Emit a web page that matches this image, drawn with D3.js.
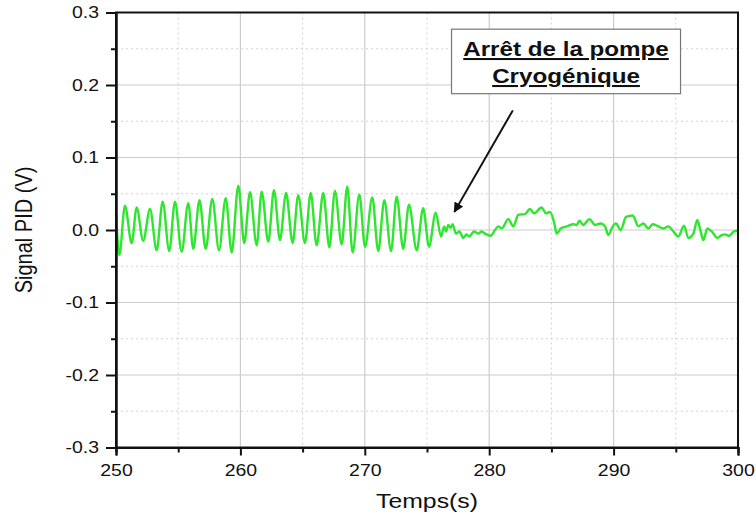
<!DOCTYPE html>
<html>
<head>
<meta charset="utf-8">
<script src="https://cdnjs.cloudflare.com/ajax/libs/d3/7.8.5/d3.min.js"></script>
<style>
body { margin: 0; background: #fff; }
text { font-family: "Liberation Sans", Arial, sans-serif; fill: #111; }
</style>
</head>
<body>
<svg class="chart-pid" width="756" height="517"></svg>
<script>
// temps (s) / signal (V)
var temps = [
    250.00, 250.27, 250.72, 251.26, 251.66, 252.19, 252.73, 253.27, 253.75, 254.28,
    254.74, 255.28, 255.81, 256.21, 256.71, 257.21, 257.74, 258.28, 258.82, 259.30,
    259.83, 260.31, 260.77, 261.31, 261.71, 262.24, 262.70, 263.18, 263.67, 264.20,
    264.65, 265.19, 265.65, 266.13, 266.66, 267.15, 267.60, 268.14, 268.59, 269.02,
    269.56, 270.02, 270.60, 271.08, 271.57, 272.11, 272.56, 273.09, 273.55, 274.17,
    274.69, 275.16, 275.70, 276.13, 276.37, 276.53, 276.71, 276.89, 277.06, 277.33,
    277.60, 277.92, 278.17, 278.40, 278.78, 279.12, 279.39, 279.66, 280.12, 280.47,
    280.73, 281.00, 281.54, 281.94, 282.34, 282.88, 283.28, 283.60, 284.22, 284.57,
    284.89, 285.21, 285.43, 285.75, 286.23, 286.76, 287.04, 287.25, 287.57, 288.05,
    288.51, 288.96, 289.31, 289.58, 289.93, 290.19, 290.57, 291.00, 291.54, 291.99,
    292.39, 292.79, 293.14, 293.59, 293.99, 294.40, 294.80, 295.20, 295.66, 296.01,
    296.41, 296.73, 297.00, 297.21, 297.54, 297.89, 298.34, 298.69, 298.96, 299.30,
    299.68, 300.00
];

var signal = [
    0.023, -0.0345, 0.0335, -0.018, 0.031, -0.015, 0.029, -0.028, 0.039, -0.029,
    0.039, -0.030, 0.037, -0.026, 0.041, -0.026, 0.043, -0.028, 0.044, -0.031,
    0.061, -0.018, 0.052, -0.021, 0.053, -0.016, 0.055, -0.014, 0.051, -0.018,
    0.048, -0.018, 0.051, -0.021, 0.051, -0.024, 0.054, -0.020, 0.060, -0.031,
    0.049, -0.023, 0.045, -0.029, 0.041, -0.029, 0.046, -0.026, 0.035, -0.028,
    0.030, -0.023, 0.024, -0.009, 0.005, -0.002, 0.007, 0.003, 0.008, -0.005,
    -0.002, -0.011, -0.006, -0.009, -0.002, -0.005, -0.002, -0.005, -0.008, 0.000,
    0.005, 0.002, 0.015, 0.005, 0.021, 0.022, 0.029, 0.023, 0.031, 0.023,
    0.025, 0.011, -0.005, 0.002, 0.005, 0.008, 0.007, 0.013, 0.007, 0.015,
    0.007, 0.009, 0.005, -0.007, 0.005, 0.009, 0.000, 0.018, 0.020, 0.005,
    0.009, 0.002, 0.008, 0.005, 0.002, 0.005, -0.002, -0.009, 0.006, -0.011,
    -0.005, 0.014, -0.002, -0.014, 0.002, -0.002, -0.011, -0.007, -0.006, -0.008,
    -0.002, -0.001
];

var xTicks = [250, 260, 270, 280, 290, 300];
var xMinor = [255, 265, 275, 285, 295];
var yTicks = [-0.3, -0.2, -0.1, 0.0, 0.1, 0.2, 0.3];
var yMinor = [-0.25, -0.15, -0.05, 0.05, 0.15, 0.25];

var noteLines = ["Arrêt de la pompe", "Cryogénique"];
var noteBox = [276.97, 0.277, 295.38, 0.188];   // t0, v0, t1, v1
var arrowFrom = [281.9, 0.165];
var arrowTo = [277.2, 0.025];

var plot = { left: 116, right: 738, top: 12.5, bottom: 447.5 };
var stretch = 1.18;   // le texte de l'original est étiré en largeur

var svg = d3.select("svg.chart-pid");

var x = d3.scaleLinear().domain([250, 300]).range([plot.left, plot.right]);
var y = d3.scaleLinear().domain([-0.3, 0.3]).range([plot.bottom, plot.top]);

function drawGrid() {
    var g = svg.append("g").attr("class", "grid");

    g.selectAll("line.vmin").data(xMinor).enter().append("line")
      .attr("x1", function (d) { return x(d); }).attr("x2", function (d) { return x(d); })
      .attr("y1", plot.top).attr("y2", plot.bottom)
      .attr("stroke", "#d2d2d2").attr("stroke-dasharray", "2,3");

    g.selectAll("line.hmin").data(yMinor).enter().append("line")
      .attr("y1", function (d) { return y(d); }).attr("y2", function (d) { return y(d); })
      .attr("x1", plot.left).attr("x2", plot.right)
      .attr("stroke", "#d2d2d2").attr("stroke-dasharray", "2,3");

    g.selectAll("line.vmaj").data(xTicks).enter().append("line")
      .attr("x1", function (d) { return x(d); }).attr("x2", function (d) { return x(d); })
      .attr("y1", plot.top).attr("y2", plot.bottom)
      .attr("stroke", "#cccccc").attr("stroke-width", 1.2);

    g.selectAll("line.hmaj").data(yTicks).enter().append("line")
      .attr("y1", function (d) { return y(d); }).attr("y2", function (d) { return y(d); })
      .attr("x1", plot.left).attr("x2", plot.right)
      .attr("stroke", "#cccccc").attr("stroke-width", 1.2);
}

function drawSignal() {
    var pts = temps.map(function (t, i) { return [t, signal[i]]; });
    var line = d3.line()
      .x(function (d) { return x(d[0]); })
      .y(function (d) { return y(d[1]); })
      .curve(d3.curveMonotoneX);

    svg.append("path")
      .datum(pts)
      .attr("d", line)
      .attr("fill", "none")
      .attr("stroke", "#2ee62e")
      .attr("stroke-width", 2.4)
      .attr("stroke-linejoin", "round");
}

function stretchText(sel) {
    sel.each(function () {
        var t = d3.select(this);
        var tx = +t.attr("x") || 0;
        t.attr("x", tx / stretch).attr("transform", "scale(" + stretch + ",1)");
    });
}

function fmtY(d) {
    return d3.format(".1f")(d).replace("\u2212", "-");
}

function drawAxes() {
    // cadre
    svg.append("rect")
      .attr("x", plot.left).attr("y", plot.top)
      .attr("width", plot.right - plot.left).attr("height", plot.bottom - plot.top)
      .attr("fill", "none").attr("stroke", "#111").attr("stroke-width", 2);

    var ax = svg.append("g").attr("transform", "translate(0," + plot.bottom + ")");
    ax.call(d3.axisBottom(x).tickValues(xTicks).tickSize(8).tickPadding(9).tickFormat(d3.format("d")));
    ax.append("g").call(d3.axisBottom(x).tickValues(xMinor).tickSize(5).tickFormat(""));

    var ay = svg.append("g").attr("transform", "translate(" + plot.left + ",0)");
    ay.call(d3.axisLeft(y).tickValues(yTicks).tickSize(10).tickPadding(7).tickFormat(fmtY));
    ay.append("g").call(d3.axisLeft(y).tickValues(yMinor).tickSize(5).tickFormat(""));

    svg.selectAll(".domain").attr("stroke", "#111").attr("stroke-width", 2);
    svg.selectAll(".tick line").attr("stroke", "#111").attr("stroke-width", 2);
    svg.selectAll(".tick text").attr("font-size", 16.5)
      .attr("font-family", "Liberation Sans, Arial, sans-serif").attr("fill", "#111");
    stretchText(ay.selectAll(".tick text"));
    stretchText(ax.selectAll(".tick text"));

    svg.append("text")
      .attr("transform", "translate(427,508) scale(" + stretch + ",1)")
      .attr("text-anchor", "middle").attr("font-size", 21)
      .text("Temps(s)");

    svg.append("text")
      .attr("transform", "translate(32,230) scale(" + stretch + ",1) rotate(-90)")
      .attr("text-anchor", "middle").attr("font-size", 20)
      .text("Signal PID (V)");
}

function drawNote() {
    var bx = x(noteBox[0]), by = y(noteBox[1]);
    var bw = x(noteBox[2]) - bx, bh = y(noteBox[3]) - by;

    svg.append("rect")
      .attr("x", bx).attr("y", by).attr("width", bw).attr("height", bh)
      .attr("fill", "#fff").attr("stroke", "#777").attr("stroke-width", 1.2);

    var cx = bx + bw / 2;
    svg.selectAll("text.note").data(noteLines).enter().append("text")
      .attr("class", "note")
      .attr("transform", function (d, i) {
          return "translate(" + cx + "," + (by + 27 + i * 27) + ") scale(" + stretch + ",1)";
      })
      .attr("text-anchor", "middle")
      .attr("font-size", 20.5).attr("font-weight", "bold")
      .attr("text-decoration", "underline")
      .text(function (d) { return d; });

    svg.append("defs").append("marker")
      .attr("id", "head").attr("viewBox", "0 0 10 10")
      .attr("refX", 9).attr("refY", 5)
      .attr("markerWidth", 11).attr("markerHeight", 10)
      .attr("markerUnits", "userSpaceOnUse")
      .attr("orient", "auto")
      .append("path").attr("d", "M0,0 L10,5 L0,10 Z").attr("fill", "#111");

    svg.append("line")
      .attr("x1", x(arrowFrom[0])).attr("y1", y(arrowFrom[1]))
      .attr("x2", x(arrowTo[0])).attr("y2", y(arrowTo[1]))
      .attr("stroke", "#111").attr("stroke-width", 2)
      .attr("marker-end", "url(#head)");
}

drawGrid();
drawSignal();
drawAxes();
drawNote();
</script>
</body>
</html>
